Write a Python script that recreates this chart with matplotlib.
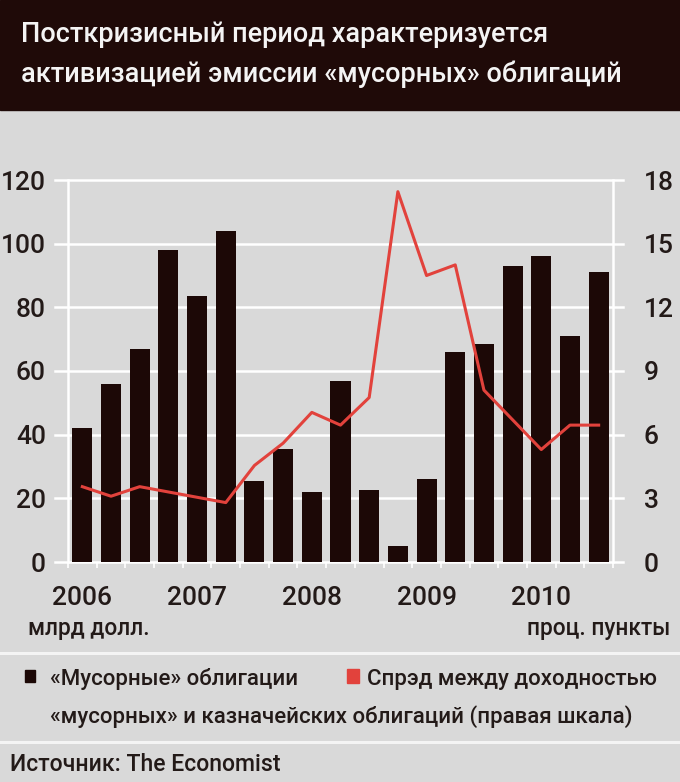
import matplotlib

matplotlib.use("Agg")
import matplotlib.pyplot as plt
import numpy as np
from matplotlib.lines import Line2D
from matplotlib.patches import Rectangle

# quarterly data, 2006 Q1 .. 2010 Q3
quarters = [f"{y} Q{q}" for y in range(2006, 2011) for q in range(1, 5)][:19]
junk_issuance = [42, 56, 67, 98, 83.5, 104, 25.5, 35.5, 22, 57, 22.5, 5, 26, 66, 68.5, 93, 96, 71, 91]
spread = [3.55, 3.1, 3.55, 3.3, 3.05, 2.8, 4.55, 5.6, 7.05, 6.45, 7.75, 17.45, 13.5, 14.0, 8.1, 6.7, 5.3, 6.45, 6.45]
year_labels = ["2006", "2007", "2008", "2009", "2010"]
left_ticks = [0, 20, 40, 60, 80, 100, 120]
right_ticks = [0, 3, 6, 9, 12, 15, 18]

BG = "#d9d9d9"
TITLE_BG = "#1f0a08"
BAR = "#1c0806"
RED = "#e2423c"
TXT = "#231a18"
W, H = 680, 782

plt.rcParams["font.family"] = ["Roboto", "DejaVu Sans"]
plt.rcParams["font.weight"] = "medium"

fig = plt.figure(figsize=(W / 100, H / 100), dpi=100, facecolor=BG)


def fx(px):
    return px / W


def fy(py):
    return 1 - py / H


# title band
fig.patches.append(Rectangle((0, fy(110)), 1, 110 / H, transform=fig.transFigure, color=TITLE_BG, zorder=0))
fig.text(fx(21), fy(42), "Посткризисный период характеризуется", color="#f4f4f4", fontsize=19.5, va="baseline")
fig.text(fx(21), fy(82), "активизацией эмиссии «мусорных» облигаций", color="#f4f4f4", fontsize=19.5, va="baseline")

ax = fig.add_axes([fx(68), fy(562), (613 - 68) / W, (562 - 180) / H])
ax.set_facecolor(BG)
x = np.arange(len(quarters))
for yv in left_ticks:
    ax.axhline(yv, xmin=-0.024, xmax=1.018, color="white", lw=1.8, clip_on=False, zorder=1)
ax.bar(x, junk_issuance, width=0.7, color=BAR, zorder=2)
ax.set_xlim(-0.5, len(quarters) - 0.5)
ax.set_ylim(0, 120)
ax.set_yticks(left_ticks)
ax.set_xticks(x[::4], year_labels)
ax.set_xticks(np.arange(-0.5, len(quarters), 1), minor=True)
ax.tick_params(axis="y", length=0, pad=16, labelsize=19, labelcolor=TXT)
ax.tick_params(axis="x", which="major", length=0, pad=17, labelsize=19, labelcolor=TXT)
ax.tick_params(axis="x", which="minor", length=4, width=1.2, color="white")
for side in ("top", "bottom"):
    ax.spines[side].set_visible(False)
for side in ("left", "right"):
    ax.spines[side].set_color("white")
    ax.spines[side].set_linewidth(1.8)

ax2 = ax.twinx()
ax2.plot(x, spread, color=RED, lw=2.2, zorder=3)
ax2.set_ylim(0, 18)
ax2.set_yticks(right_ticks)
ax2.tick_params(axis="y", length=0, pad=22, labelsize=19, labelcolor=TXT)
for side in ax2.spines:
    ax2.spines[side].set_visible(False)

fig.text(fx(28), fy(628), "млрд долл.", color=TXT, fontsize=16.3, va="center")
fig.text(fx(670), fy(628), "проц. пункты", color=TXT, fontsize=16.3, va="center", ha="right")

# separators
for py in (653, 742):
    fig.lines.append(Line2D([0, 1], [fy(py), fy(py)], transform=fig.transFigure, color="#f4f4f4", lw=2.2))

# legend
fig.patches.append(Rectangle((fx(25), fy(682)), 10 / W, 12 / H, transform=fig.transFigure, color=BAR))
fig.text(fx(50), fy(685), "«Мусорные» облигации", color=TXT, fontsize=16, va="baseline")
fig.patches.append(Rectangle((fx(347), fy(683)), 12 / W, 14 / H, transform=fig.transFigure, color=RED))
fig.text(fx(367), fy(685), "Спрэд между доходностью", color=TXT, fontsize=16, va="baseline")
fig.text(fx(50), fy(723), "«мусорных» и казначейских облигаций (правая шкала)", color=TXT, fontsize=16,
         va="baseline")

fig.text(fx(10), fy(771), "Источник: The Economist", color=TXT, fontsize=16.6, va="baseline")

fig.savefig("out.png", dpi=100, facecolor=BG)
